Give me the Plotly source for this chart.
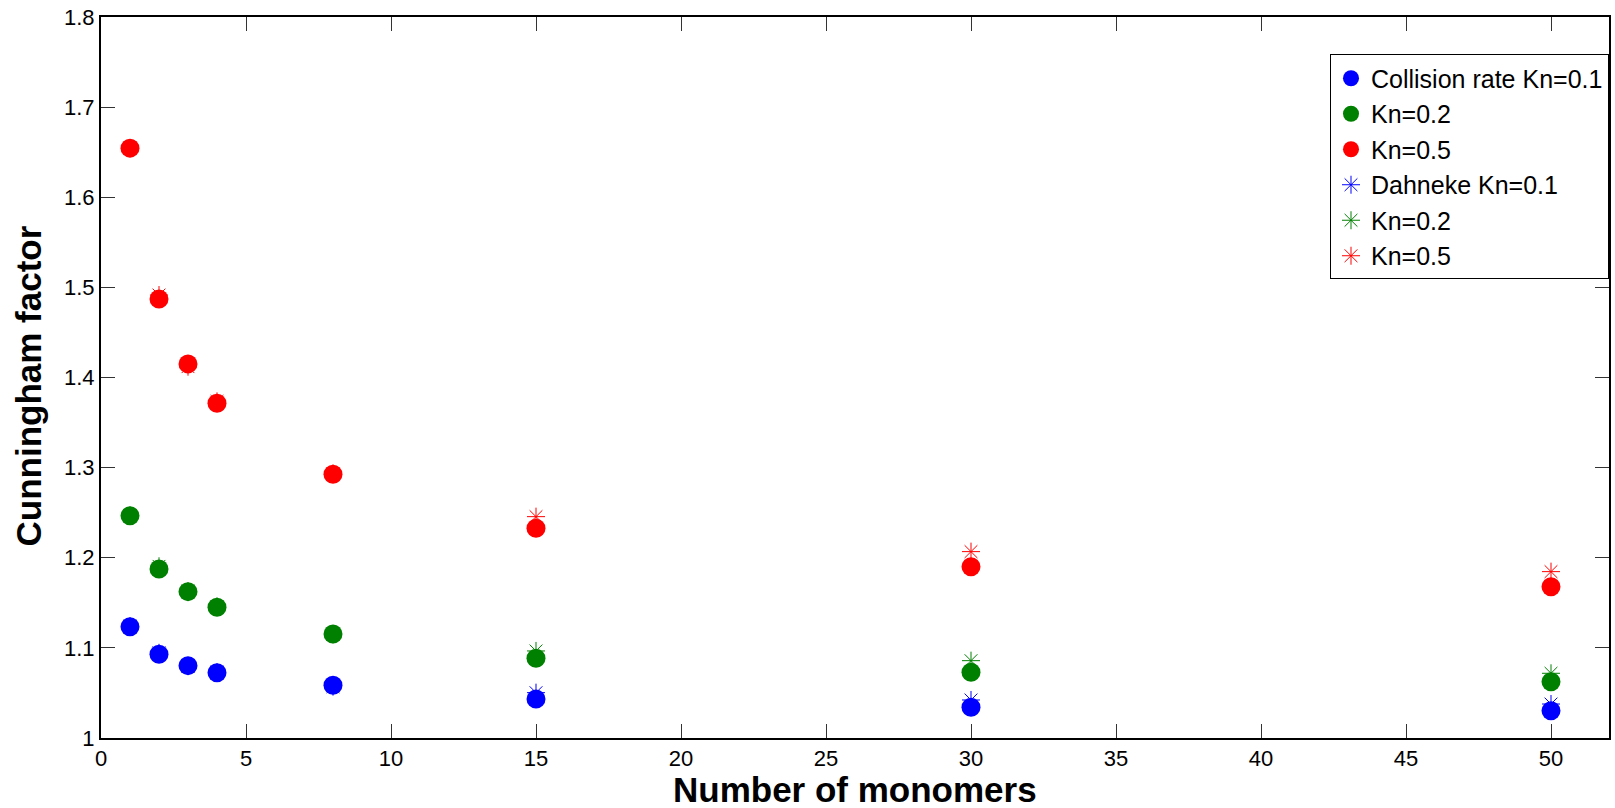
import plotly.graph_objects as go

monomers = [1, 2, 3, 4, 8, 15, 30, 50]

collision_kn01 = [1.1235, 1.0929, 1.0803, 1.0725, 1.0585, 1.0433, 1.0341, 1.0303]
collision_kn02 = [1.2467, 1.1876, 1.1624, 1.1450, 1.1154, 1.0885, 1.0729, 1.0625]
collision_kn05 = [1.6545, 1.4872, 1.4151, 1.3715, 1.2927, 1.2327, 1.1901, 1.1679]

dahneke_kn01 = [1.1240, 1.0945, 1.0800, 1.0730, 1.0570, 1.0503, 1.0422, 1.0377]
dahneke_kn02 = [1.2470, 1.1905, 1.1630, 1.1460, 1.1150, 1.0966, 1.0858, 1.0718]
dahneke_kn05 = [1.6545, 1.4915, 1.4120, 1.3735, 1.2935, 1.2456, 1.2068, 1.1846]

x_ticks = [0, 5, 10, 15, 20, 25, 30, 35, 40, 45, 50]
y_ticks = [1, 1.1, 1.2, 1.3, 1.4, 1.5, 1.6, 1.7, 1.8]

BLUE, GREEN, RED = "#0000FF", "#008000", "#FF0000"
FONT = "Liberation Sans, Arial, sans-serif"

fig = go.Figure()

stars = [
    ("Dahneke Kn=0.1", dahneke_kn01, BLUE, 4),
    ("Kn=0.2", dahneke_kn02, GREEN, 5),
    ("Kn=0.5", dahneke_kn05, RED, 6),
]
circles = [
    ("Collision rate Kn=0.1", collision_kn01, BLUE, 1),
    ("Kn=0.2", collision_kn02, GREEN, 2),
    ("Kn=0.5", collision_kn05, RED, 3),
]

for name, ys, col, rank in stars:
    fig.add_trace(go.Scatter(
        x=monomers, y=ys, mode="markers", name=name, legendrank=rank,
        marker=dict(symbol="asterisk-open", size=15, color=col,
                    line=dict(color=col, width=1)),
    ))
for name, ys, col, rank in circles:
    fig.add_trace(go.Scatter(
        x=monomers, y=ys, mode="markers", name=name, legendrank=rank,
        marker=dict(symbol="circle", size=19, color=col, line=dict(width=0)),
    ))

axis_common = dict(
    showline=True, linecolor="black", linewidth=2, mirror="ticks",
    ticks="inside", ticklen=14, tickwidth=1, tickcolor="#333333",
    showgrid=False, zeroline=False,
    tickfont=dict(family=FONT, size=22, color="black"),
)

fig.update_layout(
    width=1615, height=808,
    margin=dict(l=101, r=4, t=17, b=70),
    paper_bgcolor="white", plot_bgcolor="white",
    font=dict(family=FONT, color="black"),
    showlegend=True,
    legend=dict(
        x=1, xanchor="right", y=0.948, yanchor="top",
        bgcolor="white", bordercolor="black", borderwidth=1,
        font=dict(family=FONT, size=25, color="black"),
        tracegroupgap=0, itemsizing="trace",
    ),
    xaxis=dict(
        range=[0, 52], tickvals=x_ticks, ticktext=[str(v) for v in x_ticks],
        **axis_common,
    ),
    yaxis=dict(
        range=[1, 1.8], tickvals=y_ticks, ticktext=[f"{v:g}" for v in y_ticks],
        **axis_common,
    ),
)

fig.add_annotation(
    text="Number of monomers", xref="paper", yref="paper",
    x=0.5, y=0, xanchor="center", yanchor="middle",
    yshift=-51, showarrow=False,
    font=dict(family=FONT, size=35, weight="bold", color="black"),
)
fig.add_annotation(
    text="Cunningham factor", xref="paper", yref="paper",
    x=0, y=0.5, xanchor="center", yanchor="middle",
    xshift=-73, yshift=-9, textangle=-90, showarrow=False,
    font=dict(family=FONT, size=35, weight="bold", color="black"),
)

fig.write_html("out.html")
